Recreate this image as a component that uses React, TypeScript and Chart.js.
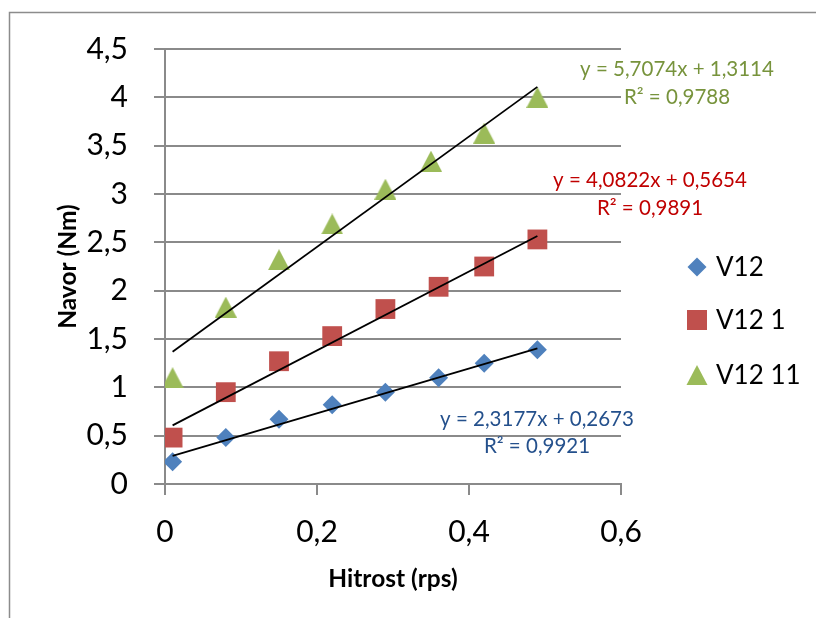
import React, { useEffect, useRef } from 'react';
import { Chart, registerables } from 'chart.js';

Chart.register(...registerables);

// ---- data ----
const seriesNames = ['V12', 'V12 1', 'V12 11'];
const xV12 = [0.01, 0.08, 0.15, 0.22, 0.29, 0.36, 0.42, 0.49];
const yV12 = [0.23, 0.48, 0.67, 0.82, 0.95, 1.1, 1.25, 1.39];
const xV12_1 = [0.01, 0.08, 0.15, 0.22, 0.29, 0.36, 0.42, 0.49];
const yV12_1 = [0.48, 0.95, 1.27, 1.53, 1.81, 2.04, 2.25, 2.53];
const xV12_11 = [0.01, 0.08, 0.15, 0.22, 0.29, 0.35, 0.42, 0.49];
const yV12_11 = [1.1, 1.83, 2.32, 2.69, 3.05, 3.34, 3.63, 4.0];
const trendSlopes = [2.3177, 4.0822, 5.7074];
const trendIntercepts = [0.2673, 0.5654, 1.3114];
const trendR2 = [0.9921, 0.9891, 0.9788];
const xAxisTitle = 'Hitrost (rps)';
const yAxisTitle = 'Navor (Nm)';

// ---- styles ----
const markerColors = ['#4F81BD', '#C0504D', '#9BBB59'];
const labelColors = ['#24508C', '#C00000', '#77933C'];
const gridColor = '#8A8A8A';
const FONT = 'Lato, "Open Sans", sans-serif';

const fmt = (v: number, d: number) => v.toFixed(d).replace('.', ',');
const tickFmt = (v: number) => String(Number(v.toFixed(2))).replace('.', ',');

function triangleImage(color: string) {
  const c = document.createElement('canvas');
  c.width = 22;
  c.height = 21;
  const g = c.getContext('2d')!;
  g.fillStyle = color;
  g.beginPath();
  g.moveTo(11, 0);
  g.lineTo(22, 21);
  g.lineTo(0, 21);
  g.closePath();
  g.fill();
  return c;
}

export default function App() {
  const ref = useRef<HTMLCanvasElement | null>(null);

  useEffect(() => {
    if (!ref.current) return;
    const xs = [xV12, xV12_1, xV12_11];
    const ys = [yV12, yV12_1, yV12_11];
    const styles: any[] = ['rectRot', 'rect', triangleImage(markerColors[2])];
    const radii = [9.5, 14, 11];

    const scatterSets = xs.map((xArr, i) => ({
      type: 'scatter' as const,
      label: seriesNames[i],
      data: xArr.map((x, j) => ({ x, y: ys[i][j] })),
      pointStyle: styles[i],
      pointRadius: radii[i],
      pointHoverRadius: radii[i],
      backgroundColor: markerColors[i],
      borderColor: markerColors[i],
      borderWidth: 0,
      order: 2,
    }));

    const trendSets = xs.map((xArr, i) => {
      const x0 = Math.min(...xArr);
      const x1 = Math.max(...xArr);
      return {
        type: 'line' as const,
        label: 'trend ' + seriesNames[i],
        data: [
          { x: x0, y: trendSlopes[i] * x0 + trendIntercepts[i] },
          { x: x1, y: trendSlopes[i] * x1 + trendIntercepts[i] },
        ],
        borderColor: '#000000',
        borderWidth: 1.8,
        pointRadius: 0,
        showLine: true,
        fill: false,
        order: 1,
      };
    });

    const eqPos = [
      { x: 537, y1: 426, y2: 453 },
      { x: 650, y1: 187, y2: 215 },
      { x: 677, y1: 76, y2: 104 },
    ];
    const legendPos = { mx: 697, tx: 716, ys: [267, 320, 375] };

    const decor = {
      id: 'decor',
      beforeDraw(chart: any) {
        const ctx = chart.ctx;
        ctx.save();
        ctx.fillStyle = '#ffffff';
        ctx.fillRect(0, 0, chart.width, chart.height);
        ctx.strokeStyle = '#8C8C8C';
        ctx.lineWidth = 1.5;
        ctx.beginPath();
        ctx.moveTo(9.5, chart.height);
        ctx.lineTo(9.5, 12.5);
        ctx.lineTo(chart.width, 12.5);
        ctx.stroke();
        ctx.restore();
      },
      afterDraw(chart: any) {
        const ctx = chart.ctx;
        ctx.save();
        // trendline equations
        ctx.font = `20.5px ${FONT}`;
        ctx.textAlign = 'center';
        ctx.textBaseline = 'alphabetic';
        for (let i = 0; i < 3; i++) {
          ctx.fillStyle = labelColors[i];
          ctx.fillText(`y = ${fmt(trendSlopes[i], 4)}x + ${fmt(trendIntercepts[i], 4)}`, eqPos[i].x, eqPos[i].y1);
          ctx.fillText(`R² = ${fmt(trendR2[i], 4)}`, eqPos[i].x, eqPos[i].y2);
        }
        // legend
        ctx.textAlign = 'left';
        ctx.textBaseline = 'middle';
        ctx.font = `26px ${FONT}`;
        for (let i = 0; i < 3; i++) {
          const cy = legendPos.ys[i];
          const cx = legendPos.mx;
          ctx.fillStyle = markerColors[i];
          ctx.beginPath();
          if (i === 0) {
            ctx.moveTo(cx, cy - 9.5);
            ctx.lineTo(cx + 9.5, cy);
            ctx.lineTo(cx, cy + 9.5);
            ctx.lineTo(cx - 9.5, cy);
          } else if (i === 1) {
            ctx.rect(cx - 10, cy - 10, 20, 20);
          } else {
            ctx.moveTo(cx, cy - 10);
            ctx.lineTo(cx + 10.5, cy + 10);
            ctx.lineTo(cx - 10.5, cy + 10);
          }
          ctx.closePath();
          ctx.fill();
          ctx.fillStyle = '#000000';
          ctx.fillText(seriesNames[i], legendPos.tx, cy + 1);
        }
        ctx.restore();
      },
    };

    const chart = new Chart(ref.current, {
      type: 'scatter',
      data: { datasets: [...scatterSets, ...trendSets] as any },
      options: {
        animation: false,
        responsive: false,
        devicePixelRatio: 1,
        layout: { padding: { top: 49, right: 195, bottom: 0, left: 0 } },
        plugins: { legend: { display: false }, tooltip: { enabled: false } },
        scales: {
          x: {
            type: 'linear',
            min: 0,
            max: 0.6,
            afterFit: (s: any) => { s.height = 134; },
            ticks: {
              stepSize: 0.2,
              callback: (v: any) => tickFmt(Number(v)),
              font: { family: FONT, size: 30 },
              color: '#000000',
              padding: 19,
              maxRotation: 0,
            },
            grid: { drawOnChartArea: false, drawTicks: true, tickLength: 11, color: gridColor, lineWidth: 2 },
            border: { display: true, color: gridColor, width: 2 },
            title: {
              display: true,
              text: xAxisTitle,
              font: { family: FONT, size: 24.5, weight: 700 },
              color: '#000000',
              padding: { top: 0, bottom: 24 },
            },
          },
          y: {
            type: 'linear',
            min: 0,
            max: 4.5,
            afterFit: (s: any) => { s.width = 165; },
            ticks: {
              stepSize: 0.5,
              callback: (v: any) => tickFmt(Number(v)),
              font: { family: FONT, size: 30 },
              color: '#000000',
              padding: 26,
            },
            grid: { drawTicks: true, tickLength: 11, color: gridColor, lineWidth: 2 },
            border: { display: true, color: gridColor, width: 2 },
            title: {
              display: true,
              text: yAxisTitle,
              font: { family: FONT, size: 24.5, weight: 700 },
              color: '#000000',
              padding: { top: 53, bottom: 0 },
            },
          },
        },
      },
      plugins: [decor],
    });
    return () => chart.destroy();
  }, []);

  return (
    <canvas
      ref={ref}
      width={816}
      height={618}
      style={{ position: 'fixed', left: 0, top: 0, width: 816, height: 618 }}
    />
  );
}
